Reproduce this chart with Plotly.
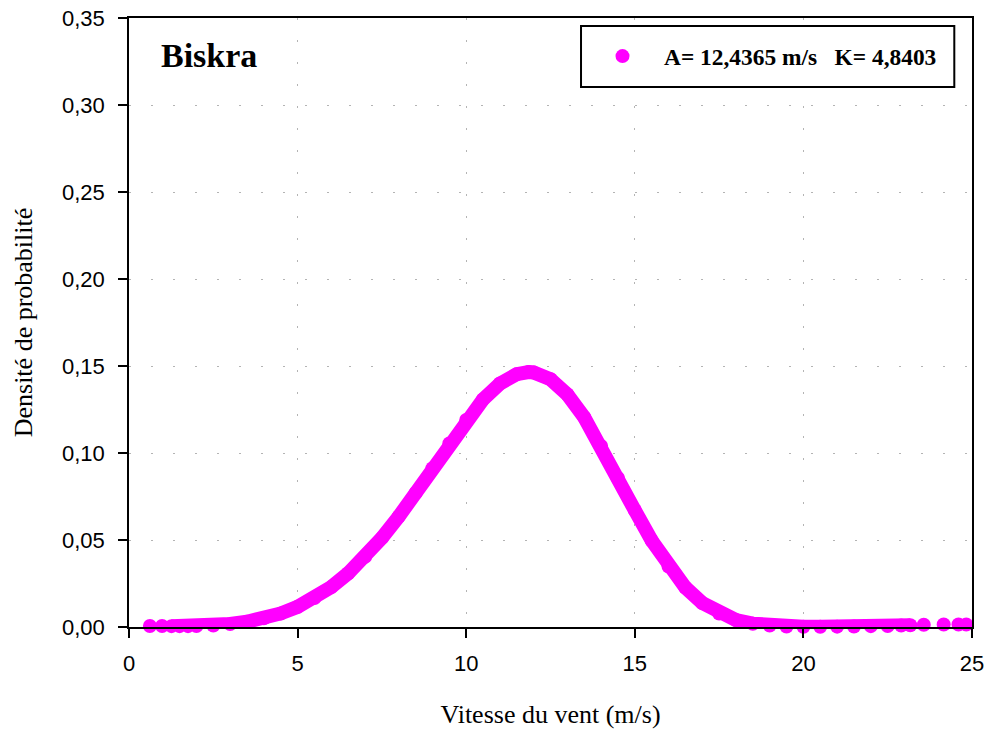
import plotly.graph_objects as go

# Wind speed (m/s) and Weibull probability density
x_main = [1.26, 1.5, 1.75, 2.0, 2.5, 3.0, 3.5, 4.0, 4.5, 5.0, 5.5, 6.0, 6.5, 7.0, 7.5,
          8.0, 8.5, 9.0, 9.5, 10.0, 10.5, 11.0, 11.5, 11.85, 12.0, 12.5, 13.0, 13.5,
          14.0, 14.5, 15.0, 15.5, 16.0, 16.5, 17.0, 17.5, 18.0, 18.5, 19.0, 19.5,
          20.0, 20.5, 21.0, 21.5, 22.0, 22.5, 22.9, 23.17]
y_main = [0.0005, 0.0005, 0.0005, 0.0006, 0.0009, 0.0017, 0.0030, 0.0050, 0.0078, 0.0116,
          0.0166, 0.0230, 0.0309, 0.0403, 0.0512, 0.0635, 0.0770, 0.0912, 0.1055, 0.1190,
          0.1308, 0.1399, 0.1453, 0.1465, 0.1463, 0.1424, 0.1336, 0.1205, 0.1040, 0.0857,
          0.0671, 0.0497, 0.0347, 0.0227, 0.0138, 0.0078, 0.0040, 0.0019, 0.0008, 0.0003,
          0.0001, 0.0001, 0.0002, 0.0003, 0.0005, 0.0006, 0.0008, 0.0010]
x_sparse = [0.62, 0.98, 23.57, 24.16, 24.6, 24.83]
y_sparse = [0.0006, 0.0006, 0.0013, 0.0014, 0.0014, 0.0014]

series_name = "A= 12,4365 m/s\u00a0\u00a0\u00a0K= 4,8403"
station = "Biskra"
x_ticks = [0, 5, 10, 15, 20, 25]
y_ticks = [0.00, 0.05, 0.10, 0.15, 0.20, 0.25, 0.30, 0.35]

MAG = "#FF00FF"
MS = 14

fig = go.Figure()
fig.add_trace(go.Scatter(
    x=x_main, y=y_main, mode="lines+markers",
    line=dict(color=MAG, width=MS),
    marker=dict(color=MAG, size=MS),
    showlegend=False, cliponaxis=False, hoverinfo="skip"))
fig.add_trace(go.Scatter(
    x=x_sparse, y=y_sparse, mode="markers",
    marker=dict(color=MAG, size=MS),
    name="<b>" + series_name + "</b>", showlegend=True, cliponaxis=False))

tickfont = dict(family="Liberation Sans, Arial", size=22, color="black")
titlefont = dict(family="Liberation Serif, Times New Roman", size=26, color="black")

axis_common = dict(
    showline=True, linecolor="black", linewidth=1.5, mirror=True,
    ticks="outside", ticklen=9, tickwidth=1.5, tickcolor="black",
    showgrid=True, gridcolor="#b4b4b4", gridwidth=1, griddash="2px,20px",
    zeroline=False, tickfont=tickfont, title_font=titlefont, automargin=False)

fig.update_xaxes(range=[0, 25], tickvals=x_ticks, ticktext=[str(v) for v in x_ticks],
                 ticklabelstandoff=7,
                 title_text="Vitesse du vent (m/s)", title_standoff=30, **axis_common)
fig.update_yaxes(range=[0, 0.35], tickvals=y_ticks,
                 ticktext=[f"{v:.2f}".replace(".", ",") for v in y_ticks],
                 ticklabelstandoff=9,
                 title_text="Densité de probabilité", title_standoff=22, **axis_common)

fig.add_annotation(text="<b>" + station + "</b>", xref="paper", yref="paper",
                   x=0.036, y=0.938, xanchor="left", yanchor="middle", showarrow=False,
                   font=dict(family="Liberation Serif, Times New Roman", size=34, color="black"))

# legend frame
fig.add_shape(type="rect", xref="paper", yref="paper",
              x0=0.5362, x1=0.979, y0=0.8867, y1=0.9869,
              line=dict(color="black", width=2), fillcolor="white", layer="above")

fig.update_layout(
    width=988, height=731,
    margin=dict(l=129, r=16, t=18, b=104),
    plot_bgcolor="white", paper_bgcolor="white",
    legend=dict(x=0.5362, y=0.937, xanchor="left", yanchor="middle",
                borderwidth=0, bgcolor="rgba(0,0,0,0)",
                font=dict(family="Liberation Serif, Times New Roman", size=23.4, color="black"),
                itemwidth=73),
    showlegend=True,
)

fig.write_html("out.html")
